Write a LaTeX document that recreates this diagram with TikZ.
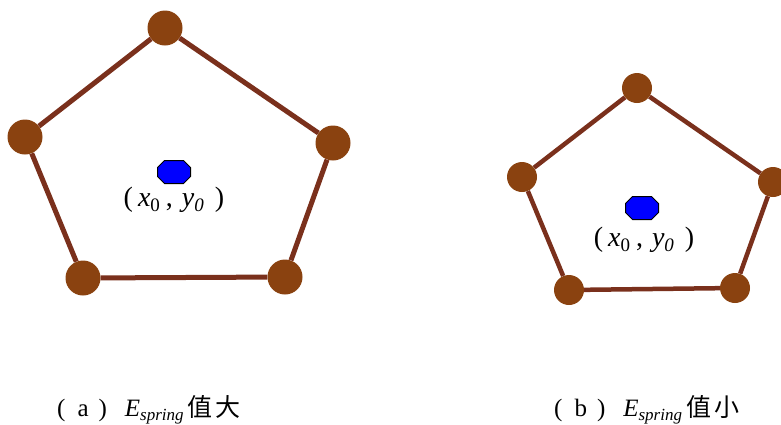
\documentclass[tikz,border=0pt]{standalone}
\usepackage{fontspec}
\setmainfont{Liberation Serif}
\newfontfamily\cjk{Noto Sans CJK TC}
\definecolor{springc}{RGB}{122,48,28}
\definecolor{massc}{RGB}{138,66,16}
\newcommand{\lowsub}[2][19]{\raisebox{-0.35ex}{\fontsize{#1}{#1}\selectfont #2}}
\newcommand{\pos}{(\hspace{5pt}\textit{x}\lowsub{0}\hspace{6pt},\hspace{9pt}\textit{y}\lowsub{\textit{0}}\hspace{11pt})}

\begin{document}
\begin{tikzpicture}[x=1pt,y=-1pt,
 big/.style={circle,fill=massc,minimum size=35pt,inner sep=0pt},
 small/.style={circle,fill=massc,minimum size=30pt,inner sep=0pt},
 spring/.style={draw=springc,line width=5pt},
 lbl/.style={font=\fontsize{28}{28}\selectfont},
 captext/.style={anchor=base west,inner sep=0pt,font=\fontsize{25}{25}\selectfont},
 octo/.pic={\draw[black,line width=1pt,fill=blue] (-16.5,-4.5) -- (-16.5,4.5) -- (-9.5,11.5) -- (9.5,11.5)
   -- (16.5,4.5) -- (16.5,-4.5) -- (9.5,-11.5) -- (-9.5,-11.5) -- cycle;}]
\useasboundingbox (0,0) rectangle (781,424);
% (a) large spring energy
\node[big] (a1) at (165,28) {};
\node[big] (a2) at (333,143) {};
\node[big] (a3) at (285,277) {};
\node[big] (a4) at (83,278) {};
\node[big] (a5) at (25,137) {};
\draw[spring] (a1)--(a2)--(a3)--(a4)--(a5)--(a1);
\pic (ac) at (174,172) {octo};
\node[lbl] (al) at (174,200) {\pos};
% (b) small spring energy
\node[small] (b1) at (637,88) {};
\node[small] (b2) at (773,182) {};
\node[small] (b3) at (735,288) {};
\node[small] (b4) at (569,290) {};
\node[small] (b5) at (522,177) {};
\draw[spring,line width=4.5pt] (b1)--(b2)--(b3)--(b4)--(b5)--(b1);
\pic (bc) at (642,208) {octo};
\node[lbl] (bl) at (644,240) {\pos};
% captions
\node[captext] (capa) at (57,416) {(\hspace{12pt}a\hspace{10pt})\hspace{18pt}\textit{E}\lowsub[17]{\textit{spring}}\hspace{4pt}{\cjk 值\hspace{3pt}大}};
\node[captext] (capb) at (554,416) {(\hspace{12pt}b\hspace{10pt})\hspace{18pt}\textit{E}\lowsub[17]{\textit{spring}}\hspace{4pt}{\cjk 值\hspace{3pt}小}};
\end{tikzpicture}
\end{document}
